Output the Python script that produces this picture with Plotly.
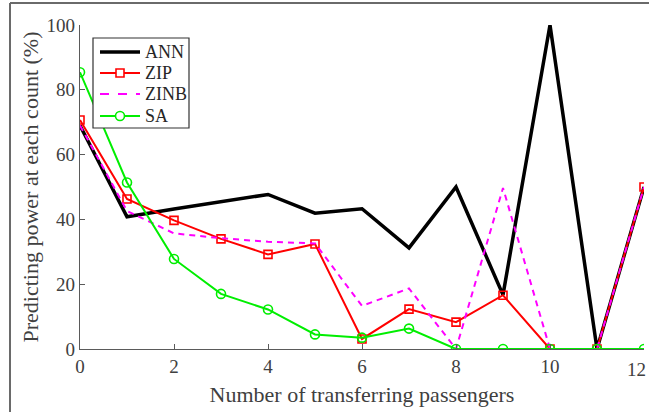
import plotly.graph_objects as go

# Number of transferring passengers (count)
counts = list(range(13))

# Predicting power (%) at each count for each model
ann = [69.0, 40.8, 43.2, 45.5, 47.7, 41.9, 43.3, 31.2, 50.0, 16.7, 100.0, 0.0, 50.0]
zip_model = [70.7, 46.3, 39.7, 34.0, 29.2, 32.4, 3.1, 12.3, 8.3, 16.6, 0.0, 0.0, 50.0]
zinb = [69.0, 42.6, 35.7, 34.2, 33.1, 32.6, 13.3, 18.7, 0.0, 49.7, 0.0, 0.0, 50.0]
sa = [85.4, 51.4, 27.8, 17.0, 12.2, 4.5, 3.5, 6.3, 0.0, 0.0, 0.0, 0.0, 0.0]

model_names = ["ANN", "ZIP", "ZINB", "SA"]

x_ticks = [0, 2, 4, 6, 8, 10, 12]
y_ticks = [0, 20, 40, 60, 80, 100]

FONT = "Liberation Serif, Times New Roman, serif"
TEXT = "#404040"
AXIS = "#5a5a5a"

W, H = 649, 412
ML, MR, MT, MB = 80, 5, 25, 63
PW, PH = W - ML - MR, H - MT - MB


def px_x(px):
    """Pixel column -> paper x."""
    return (px - ML) / PW


def px_y(py):
    """Pixel row -> paper y."""
    return (H - MB - py) / PH


styles = [
    dict(line=dict(color="black", width=3.5), marker=None),
    dict(line=dict(color="#ff0000", width=2),
         marker=dict(symbol="square-open", size=8, color="#ff0000",
                     line=dict(width=1.6, color="#ff0000"))),
    dict(line=dict(color="#ff00ff", width=2, dash="6px,5px"), marker=None),
    dict(line=dict(color="#00ee00", width=2),
         marker=dict(symbol="circle-open", size=9, color="#00ee00",
                     line=dict(width=1.6, color="#00ee00"))),
]

fig = go.Figure()
for name, values, st in zip(model_names, [ann, zip_model, zinb, sa], styles):
    kw = dict(x=counts, y=values, name=name, line=st["line"], showlegend=False)
    if st["marker"] is not None:
        kw.update(mode="lines+markers", marker=st["marker"])
    else:
        kw.update(mode="lines")
    fig.add_trace(go.Scatter(**kw))

shapes = []
annotations = []

# outer figure frame (left and top edges)
shapes.append(dict(type="line", xref="paper", yref="paper",
                   x0=px_x(10), x1=px_x(10), y0=px_y(3), y1=px_y(430),
                   line=dict(color="#6a6a6a", width=2)))
shapes.append(dict(type="line", xref="paper", yref="paper",
                   x0=px_x(10), x1=px_x(670), y0=px_y(3), y1=px_y(3),
                   line=dict(color="#6a6a6a", width=2)))

# legend box
shapes.append(dict(type="rect", xref="paper", yref="paper",
                   x0=px_x(93), x1=px_x(189), y0=px_y(38), y1=px_y(128),
                   line=dict(color="#333333", width=1.2), fillcolor="white", layer="above"))
rows = [52, 73, 94, 116]
for name, st, ry in zip(model_names, styles, rows):
    ln = st["line"]
    dash = "dash" if "dash" in ln else "solid"
    shapes.append(dict(type="line", xref="paper", yref="paper",
                       x0=px_x(100), x1=px_x(140), y0=px_y(ry), y1=px_y(ry),
                       line=dict(color=ln["color"], width=ln["width"], dash=dash),
                       layer="above"))
    mk = st["marker"]
    if mk is not None:
        r = mk["size"] / 2
        shapes.append(dict(type="rect" if "square" in mk["symbol"] else "circle",
                           xref="paper", yref="paper",
                           x0=px_x(120 - r), x1=px_x(120 + r),
                           y0=px_y(ry - r), y1=px_y(ry + r),
                           line=dict(color=mk["color"], width=1.6),
                           fillcolor="white", layer="above"))
    annotations.append(dict(xref="paper", yref="paper", x=px_x(143), y=px_y(ry),
                            xanchor="left", yanchor="middle", text=name, showarrow=False,
                            font=dict(family=FONT, size=18, color="#262626")))

# last x tick label, kept inside the right edge of the page
annotations.append(dict(xref="paper", yref="paper", x=px_x(W - 1), y=px_y(369),
                        xanchor="right", yanchor="middle", text=str(x_ticks[-1]),
                        showarrow=False, font=dict(family=FONT, size=19, color=TEXT)))

fig.update_layout(
    width=W, height=H,
    margin=dict(l=ML, r=MR, t=MT, b=MB, autoexpand=False),
    paper_bgcolor="white", plot_bgcolor="white",
    font=dict(family=FONT, size=19, color=TEXT),
    showlegend=False,
    shapes=shapes,
    annotations=annotations,
    xaxis=dict(range=[0, 12], tickvals=x_ticks, ticktext=[str(v) for v in x_ticks[:-1]] + [""],
               ticks="inside", ticklen=5, automargin=False,
               tickcolor=AXIS, showline=True, linecolor=AXIS, linewidth=1.2,
               showgrid=False, zeroline=False,
               tickfont=dict(family=FONT, size=19, color=TEXT),
               title=dict(text="Number of transferring passengers", standoff=10,
                          font=dict(family=FONT, size=22, color=TEXT))),
    yaxis=dict(range=[0, 100], tickvals=y_ticks, ticks="inside", ticklen=5, automargin=False,
               tickcolor=AXIS, showline=True, linecolor=AXIS, linewidth=1.2,
               showgrid=False, zeroline=False,
               tickfont=dict(family=FONT, size=19, color=TEXT),
               title=dict(text="Predicting power at each count (%)", standoff=1,
                          font=dict(family=FONT, size=22, color=TEXT))),
)

fig.write_html("out.html")
